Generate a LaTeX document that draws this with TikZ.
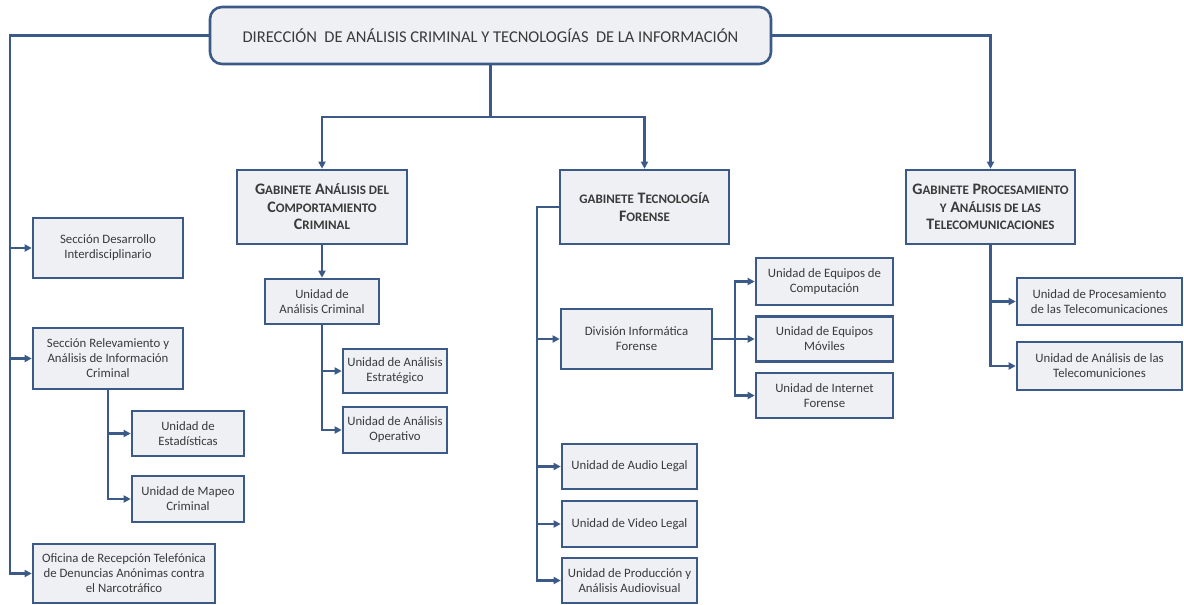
\documentclass[tikz,border=0pt]{standalone}
\usepackage{fontspec}
\setmainfont{Carlito}
\usetikzlibrary{arrows.meta}

\definecolor{azulborde}{HTML}{3C5A88}
\definecolor{grisfondo}{HTML}{EEF0F3}
\definecolor{gristexto}{HTML}{3A3A3A}

\newcommand{\versal}[1]{{\fontsize{13}{13}\selectfont #1}}

\begin{document}
\begin{tikzpicture}[x=1pt, y=-1pt,
    caja/.style={draw=azulborde, line width=2.6pt, fill=grisfondo, text=gristexto,
        align=center, inner sep=2pt, font=\fontsize{12.8}{15}\selectfont},
    gabinete/.style={caja, minimum width=169pt, minimum height=74pt,
        font=\bfseries\fontsize{16}{17.5}\selectfont},
    linea/.style={draw=azulborde, line width=2.5pt},
    flecha/.style={linea, -{Triangle[length=7pt, width=7pt]}}]
    \useasboundingbox (0,0) rectangle (1184,605);

    % Direccion
    \node[caja, rounded corners=12pt, minimum width=561pt, minimum height=57pt,
        font=\fontsize{16.5}{19}\selectfont] (dir) at (490.5,35.5)
        {DIRECCIÓN \ DE ANÁLISIS CRIMINAL Y TECNOLOGÍAS \ DE LA INFORMACIÓN};

    % Gabinetes
    \node[gabinete, minimum width=170pt] (gac) at (322,207)
        {G\versal{ABINETE} A\versal{NÁLISIS DEL}\\ C\versal{OMPORTAMIENTO}\\ C\versal{RIMINAL}};
    \node[gabinete] (gtf) at (644.5,207)
        {\versal{GABINETE} T\versal{ECNOLOGÍA}\\ F\versal{ORENSE}};
    \node[gabinete] (gpa) at (990.5,207)
        {G\versal{ABINETE} P\versal{ROCESAMIENTO}\\ \versal{Y} A\versal{NÁLISIS DE LAS}\\ T\versal{ELECOMUNICACIONES}};

    % Columna izquierda
    \node[caja, minimum width=150pt, minimum height=60pt] (sdi) at (108,248)
        {Sección Desarrollo\\ Interdisciplinario};
    \node[caja, minimum width=150pt, minimum height=61pt] (sri) at (108,358.5)
        {Sección Relevamiento y\\ Análisis de Información\\ Criminal};
    \node[caja, minimum width=112pt, minimum height=45pt] (ues) at (188,433.5)
        {Unidad de\\ Estadísticas};
    \node[caja, minimum width=112pt, minimum height=46pt] (ump) at (188,499)
        {Unidad de Mapeo\\ Criminal};
    \node[caja, minimum width=182pt, minimum height=59pt] (ofi) at (124,573.5)
        {Oficina de Recepción Telefónica\\ de Denuncias Anónimas contra\\ el Narcotráfico};

    % Comportamiento criminal
    \node[caja, minimum width=114pt, minimum height=45pt] (uac) at (322,301.5)
        {Unidad de\\ Análisis Criminal};
    \node[caja, minimum width=104pt, minimum height=44pt] (uae) at (395,371)
        {Unidad de Análisis\\ Estratégico};
    \node[caja, minimum width=104pt, minimum height=46pt] (uao) at (395,430)
        {Unidad de Análisis\\ Operativo};

    % Tecnologia forense
    \node[caja, minimum width=151pt, minimum height=60pt] (dif) at (636.5,339)
        {División Informática\\ Forense};
    \node[caja, minimum width=137pt, minimum height=47pt] (uec) at (824.5,281.5)
        {Unidad de Equipos de\\ Computación};
    \node[caja, minimum width=137pt, minimum height=45pt] (uem) at (824.5,339)
        {Unidad de Equipos\\ Móviles};
    \node[caja, minimum width=137pt, minimum height=45pt] (uif) at (824.5,395.5)
        {Unidad de Internet\\ Forense};
    \node[caja, minimum width=135pt, minimum height=45pt] (ual) at (629.5,466.5)
        {Unidad de Audio Legal};
    \node[caja, minimum width=135pt, minimum height=46pt] (uvl) at (629.5,524)
        {Unidad de Video Legal};
    \node[caja, minimum width=135pt, minimum height=45pt] (upa) at (629.5,580.5)
        {Unidad de Producción y\\ Análisis Audiovisual};

    % Telecomunicaciones
    \node[caja, minimum width=165pt, minimum height=47pt] (upt) at (1099.5,301.5)
        {Unidad de Procesamiento\\ de las Telecomunicaciones};
    \node[caja, minimum width=165pt, minimum height=48pt] (uat) at (1099.5,366)
        {Unidad de Análisis de las\\ Telecomuniciones};

    % Puntos de giro
    \coordinate (izq) at (10,35.5);
    \coordinate (rama) at (490.5,117);
    \coordinate (tfi) at (537,207);
    \coordinate (dfr) at (735,339);

    % Conectores
    \draw[flecha] (dir.west) -- (izq) |- (ofi.west);
    \draw[flecha] (izq |- sdi.west) -- (sdi.west);
    \draw[flecha] (izq |- sri.west) -- (sri.west);
    \draw[flecha] (sri.south) |- (ues.west);
    \draw[flecha] (sri.south) |- (ump.west);

    \draw[linea] (dir.south) -- (rama);
    \draw[flecha] (rama) -| (gac.north);
    \draw[flecha] (rama) -| (gtf.north);
    \draw[flecha] (dir.east) -| (gpa.north);

    \draw[flecha] (gac.south) -- (uac.north);
    \draw[flecha] (uac.south) |- (uae.west);
    \draw[flecha] (uac.south) |- (uao.west);

    \draw[flecha] (gtf.west) -- (tfi) |- (upa.west);
    \draw[flecha] (tfi |- dif.west) -- (dif.west);
    \draw[flecha] (tfi |- ual.west) -- (ual.west);
    \draw[flecha] (tfi |- uvl.west) -- (uvl.west);
    \draw[linea] (dif.east) -- (dfr);
    \draw[flecha] (dfr) |- (uec.west);
    \draw[flecha] (dfr) -- (uem.west);
    \draw[flecha] (dfr) |- (uif.west);

    \draw[flecha] (gpa.south) |- (upt.west);
    \draw[flecha] (gpa.south) |- (uat.west);
\end{tikzpicture}
\end{document}
